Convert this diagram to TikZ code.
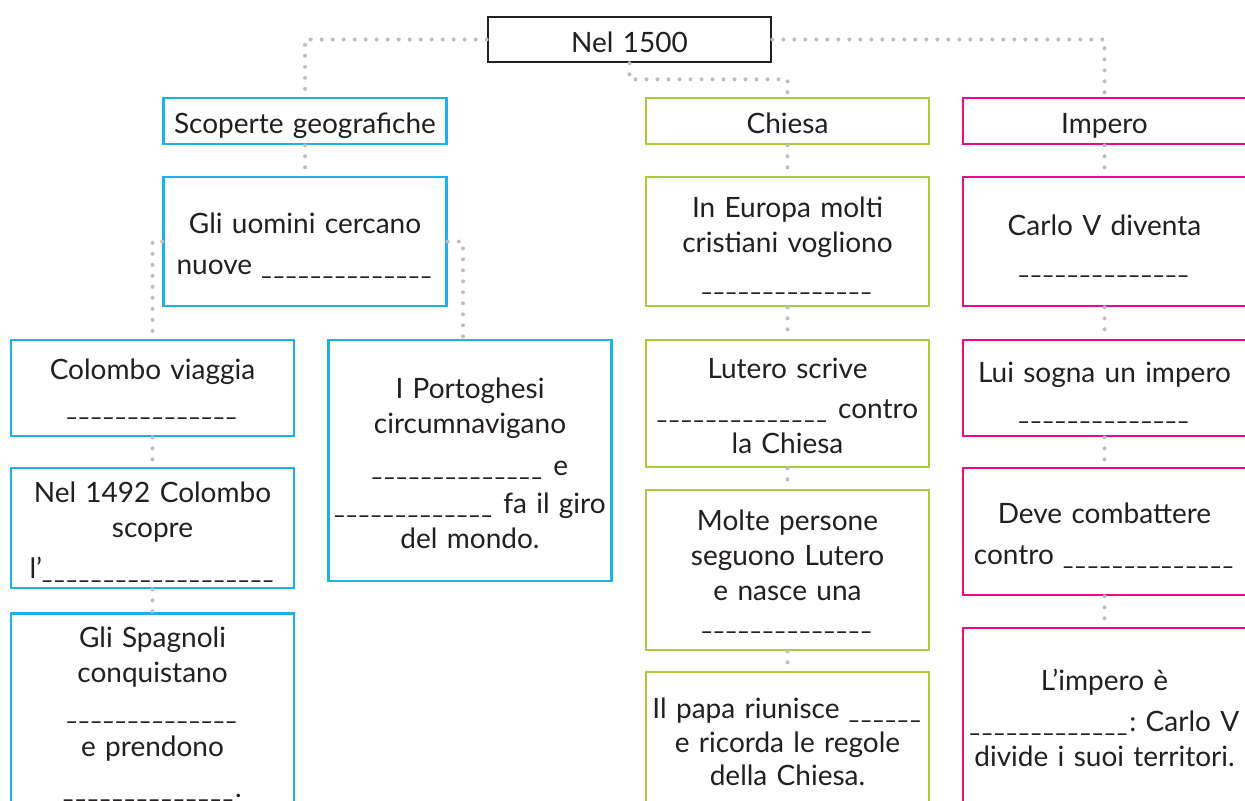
\documentclass[tikz,border=0pt]{standalone}
\usepackage{fontspec}
\setmainfont{Lato}
\usetikzlibrary{positioning}
\hyphenpenalty=10000
\frenchspacing
\definecolor{ink}{HTML}{231F20}
\definecolor{geo}{HTML}{1CB1EC}
\definecolor{chu}{HTML}{A8CC3C}
\definecolor{emp}{HTML}{EC098D}
\definecolor{dotg}{HTML}{BCBEC0}
\tikzset{
  box/.style={draw=#1,line width=1.3pt,align=center,inner xsep=0pt,inner ysep=1pt,
              text width=141pt,minimum width=141.5pt,
              font=\fontsize{14}{17.5}\selectfont,text=ink,
              execute at begin node={\rule{0pt}{16pt}},
              execute at end node={\rule[-3.5pt]{0pt}{3.5pt}}},
  box/.default=ink,
  link/.style={draw=dotg,line width=2pt,line cap=round,dash pattern=on 0pt off 5.5pt},
}
\newcommand\blank[1]{\foreach\k in {1,...,#1}{\scalebox{0.8}[1]{\_}\kern1pt}}
\newcommand\lift[1]{\rule[-#1]{0pt}{#1}}

\begin{document}
\begin{tikzpicture}[x=0.5pt,y=-0.5pt]
  \useasboundingbox (0,0) rectangle (1245,800);
  \fill[white] (0,0) rectangle (1245,800);
  \clip (0,0) rectangle (1245,800);
  % top and the three themes
  \node[box=ink,minimum height=22.5pt] (top)  at (629.5,39.5) {Nel 1500};
  \node[box=geo,minimum height=23pt]   (scop) at (305,121)    {Scoperte geografiche};
  \node[box=chu,minimum height=23pt]   (chi)  at (787.5,121)  {Chiesa};
  \node[box=emp,minimum height=23pt]   (imp)  at (1104.5,121) {Impero};
  % scoperte geografiche
  \node[box=geo,minimum height=64.5pt] (uom) at (305,241.5) {Gli uomini cercano\\[3pt] nuove \blank{14}};
  \node[box=geo,minimum height=48pt]   (col) at (152.5,388) {Colombo viaggia\\[0.5pt] \blank{14}\lift{6.5pt}};
  \node[box=geo,minimum height=120.5pt] (por) at (470,460.5)
    {I Portoghesi\\ circumnavigano\\[3.5pt] \blank{14} e\\[1.5pt] \blank{13} fa il giro\\ del mondo.};
  \node[box=geo,minimum height=60pt]   (n92) at (152.5,528) {Nel 1492 Colombo\\ scopre\\[3pt] l’\blank{19}};
  \node[box=geo,minimum height=102.5pt] (spa) at (152.5,717.5)
    {Gli Spagnoli\\ conquistano\\[1pt] \blank{14}\\[1pt] e prendono\\[3pt] \blank{14}.\lift{11pt}};
  % chiesa
  \node[box=chu,minimum height=64.5pt] (eur) at (787.5,241.5) {In Europa molti\\ cristiani vogliono\\[1.5pt] \blank{14}};
  \node[box=chu,minimum height=63.5pt] (lut) at (787.5,403.5) {Lutero scrive\\[2.5pt] \blank{14} contro\\ la Chiesa};
  \node[box=chu,minimum height=80pt]   (mol) at (787.5,570) {Molte persone\\ seguono Lutero\\ e nasce una\\[-3pt] \blank{14}\lift{6.5pt}};
  \node[box=chu,minimum height=70pt]   (pap) at (787.5,742) {Il papa riunisce \blank{6}\\[-0.5pt] e ricorda le regole\\[-1pt] della Chiesa.\lift{6.5pt}};
  % impero
  \node[box=emp,minimum height=64.5pt] (car) at (1104.5,241.5) {Carlo V diventa\\[1.5pt] \blank{14}};
  \node[box=emp,minimum height=48pt]   (lui) at (1104.5,388) {Lui sogna un impero\\[1pt] \blank{14}};
  \node[box=emp,minimum height=63.5pt] (dev) at (1104.5,531.5) {Deve combattere\\[3pt] contro \blank{14}};
  \node[box=emp,minimum height=92pt]   (emp) at (1104.5,720) {L’impero è\\[3pt] \blank{13}: Carlo V\\ divide i suoi territori.\lift{7.5pt}};
  % dotted links
  \draw[link] (top.west) -| (scop.north);
  \draw[link] (top.east) -| (imp.north);
  \draw[link] (top.south) -- ++(0,16) -| (chi.north);
  \draw[link] (uom.west) -| (col.north);
  \draw[link] (uom.east) -| ([xshift=-3.5pt]por.north);
  \foreach \a/\b in {scop/uom,col/n92,n92/spa,chi/eur,eur/lut,lut/mol,mol/pap,imp/car,car/lui,lui/dev,dev/emp}
    \draw[link] (\a.south) -- (\b.north);
\end{tikzpicture}
\end{document}
